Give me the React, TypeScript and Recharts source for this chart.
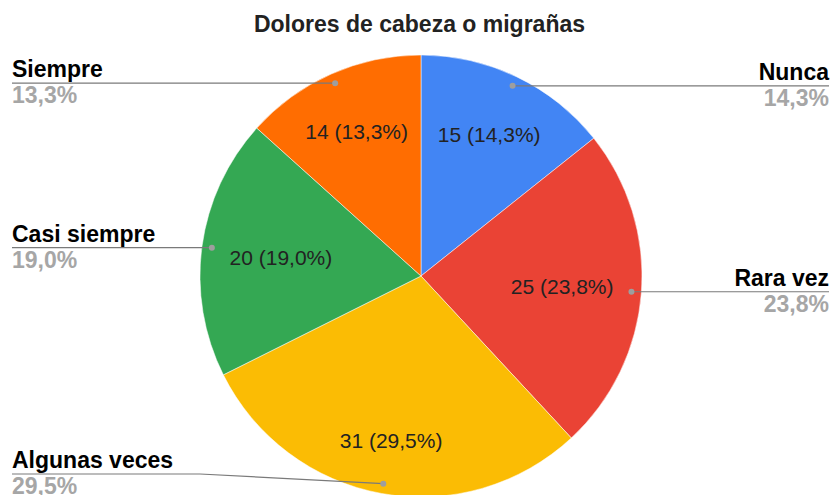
import React from 'react'
import { PieChart, Pie, Cell } from 'recharts'

const categorias = ['Nunca', 'Rara vez', 'Algunas veces', 'Casi siempre', 'Siempre']
const valores = [15, 25, 31, 20, 14]
const colores = ['#4285F4', '#EA4335', '#FBBC04', '#34A853', '#FF6D01']

const data = categorias.map((name, i) => ({ name, value: valores[i] }))

const W = 833
const H = 495
const FONT = '"Liberation Sans", Arial, sans-serif'
const RAD = Math.PI / 180

const fmt = (p: number) => (p * 100).toFixed(1).replace('.', ',') + '%'

const renderLabel = (props: any) => {
  const { cx, cy, midAngle, outerRadius, percent, name, value } = props
  const cos = Math.cos(-midAngle * RAD)
  const sin = Math.sin(-midAngle * RAD)
  // inner label: keep the text box's far corner at ~0.87 of the radius
  const hw = 50
  const hh = 10
  const cxo = Math.sign(cos) * hw
  const cyo = Math.sign(sin) * hh
  const D = outerRadius * 0.87
  const uc = cos * cxo + sin * cyo
  const t = -uc + Math.sqrt(uc * uc - (cxo * cxo + cyo * cyo) + D * D)
  const ix = cx + t * cos
  const iy = cy + t * sin
  const dx = cx + outerRadius * 0.955 * cos
  const dy = cy + outerRadius * 0.955 * sin
  const right = cos >= 0
  const edge = right ? W - 4 : 12
  const ly = Math.min(dy, H - 21)
  const bend = right ? Math.max(edge - 188, dx) : Math.min(edge + 188, dx)
  return (
    <g>
      <text x={ix} y={iy} textAnchor="middle" dominantBaseline="central" fill="#222" fontSize={21} fontFamily={FONT}>
        {`${value} (${fmt(percent)})`}
      </text>
      <path d={`M${edge},${ly} L${bend},${ly} L${dx},${dy}`} stroke="#7a7a7a" strokeWidth={1.2} fill="none" />
      <circle cx={dx} cy={dy} r={3} fill="#9e9e9e" />
      <text x={edge} y={ly - 6} textAnchor={right ? 'end' : 'start'} fill="#000" fontSize={23} fontWeight="bold" fontFamily={FONT}>
        {name}
      </text>
      <text x={edge} y={ly + 20} textAnchor={right ? 'end' : 'start'} fill="#a6a6a6" fontSize={23} fontWeight="bold" fontFamily={FONT}>
        {fmt(percent)}
      </text>
    </g>
  )
}

const App: React.FC = () => {
  return (
    <div style={{ position: 'absolute', left: 0, top: 0, width: W, height: H, background: '#fff', overflow: 'hidden' }}>
      <div style={{ position: 'absolute', left: 0, top: 11, width: 839, textAlign: 'center', fontFamily: FONT, fontSize: 23, fontWeight: 'bold', color: '#222' }}>
        Dolores de cabeza o migrañas
      </div>
      <PieChart width={W} height={H} margin={{ top: 0, right: 0, bottom: 0, left: 0 }}>
        <Pie
          data={data}
          dataKey="value"
          nameKey="name"
          cx={421}
          cy={276}
          outerRadius={221}
          startAngle={90}
          endAngle={-270}
          stroke="#fff"
          strokeWidth={0.5}
          label={renderLabel}
          labelLine={false}
          isAnimationActive={false}
        >
          {data.map((d, i) => (
            <Cell key={d.name} fill={colores[i]} />
          ))}
        </Pie>
      </PieChart>
    </div>
  )
}

export default App
